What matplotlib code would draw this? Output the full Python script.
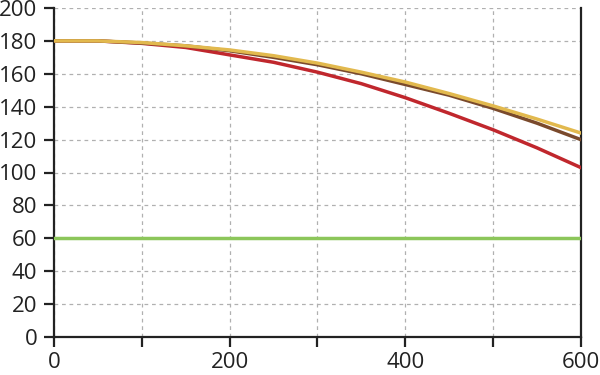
import matplotlib as mpl
mpl.use('Agg')
import matplotlib.pyplot as plt

x = [0, 50, 100, 150, 200, 250, 300, 350, 400, 450, 500, 550, 600]
red = [180, 180, 178.5, 176, 171.5, 167, 161, 154, 145.5, 136, 126, 115, 103]
brown = [180, 180, 178.7, 177, 174, 170, 165.5, 160, 153.5, 147, 139, 130, 120]
gold = [180, 180, 179, 177, 174.5, 171, 166.5, 161, 155, 148, 140.5, 132.5, 124]
green = [60] * len(x)

plt.rcParams['font.family'] = ['Open Sans', 'DejaVu Sans']

fig = plt.figure(figsize=(6, 3.75), dpi=100)
ax = fig.add_axes([0.09, 0.1013, 0.878, 0.8774])

ax.plot(x, green, color='#8cc65a', lw=2.5, zorder=3)
ax.plot(x, red, color='#c0272d', lw=2.5, zorder=3)
ax.plot(x, brown, color='#7a4a2c', lw=2.5, zorder=4)
ax.plot(x, gold, color='#e2b94e', lw=2.5, zorder=5)

ax.set_xlim(0, 600)
ax.set_ylim(0, 200)
ax.set_xticks(range(0, 601, 100))
ax.set_xticklabels(['0', '', '200', '', '400', '', '600'])
ax.set_yticks(range(0, 201, 20))

ax.grid(True, color='#b0b0b0', linestyle=(0, (3, 3)), lw=0.9)
ax.set_axisbelow(True)
for s in ['left', 'bottom', 'right']:
    ax.spines[s].set_linewidth(1.6)
    ax.spines[s].set_color('#222222')
ax.spines['top'].set_visible(False)
ax.tick_params(axis='both', length=7, width=1.6, color='#222222',
               labelsize=16, labelcolor='#222222')
ax.tick_params(axis='y', pad=5)
ax.tick_params(axis='x', pad=4)

fig.savefig('out.png', dpi=100)
